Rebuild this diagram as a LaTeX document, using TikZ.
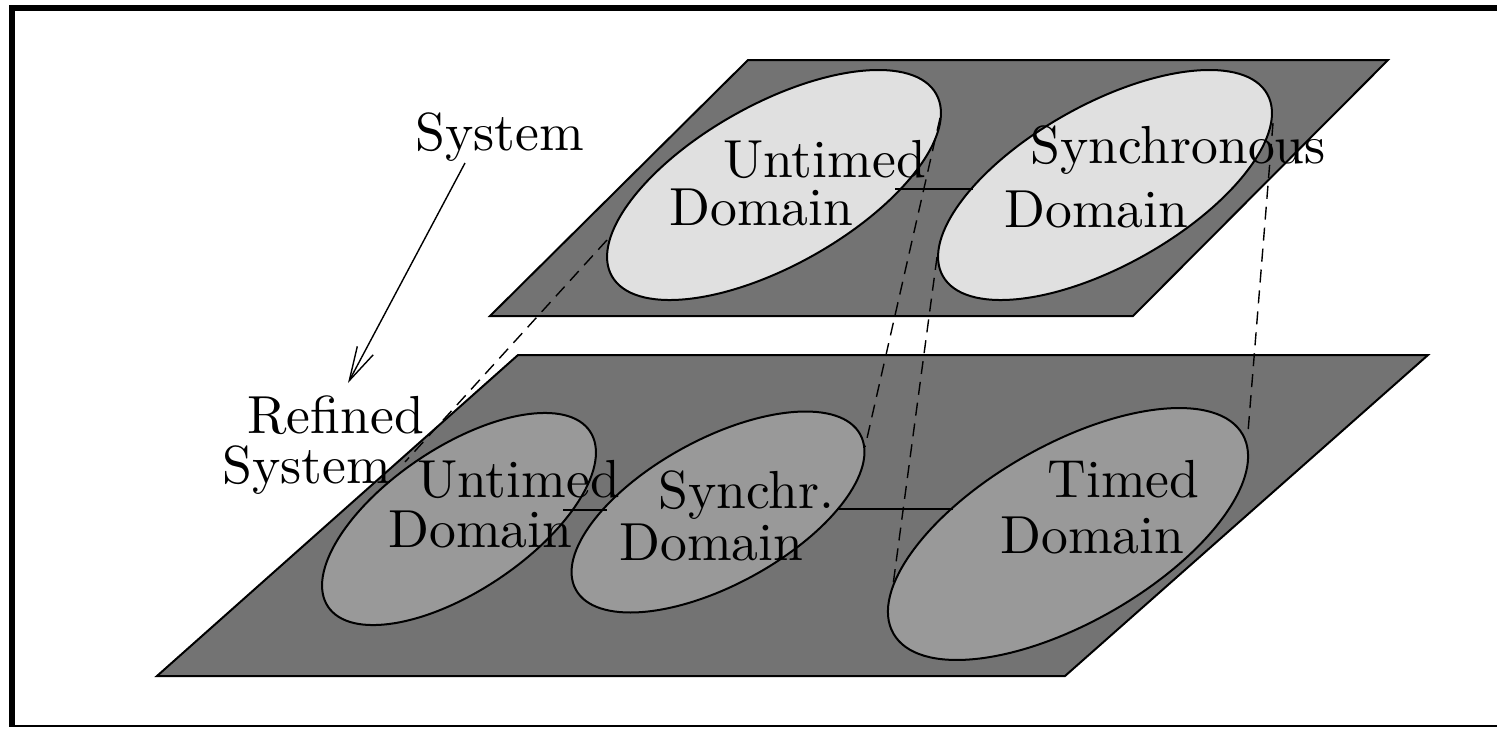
\documentclass[tikz,border=0pt]{standalone}
\usepackage{fontspec}
\newfontfamily\cmten[Extension=.otf]{lmroman10-regular}
\usetikzlibrary{arrows.meta}
\definecolor{plate}{gray}{0.45}
\definecolor{topell}{gray}{0.88}
\definecolor{lowell}{gray}{0.60}
\begin{document}
\begin{tikzpicture}[x=0.5pt,y=-0.5pt,
  platestyle/.style={fill=plate,draw=black,line width=1pt,line join=miter},
  topdom/.style={fill=topell,draw=black,line width=1pt},
  lowdom/.style={fill=lowell,draw=black,line width=1pt},
  lbl/.style={anchor=base west,inner sep=0pt,font=\cmten\fontsize{26.8pt}{24pt}\selectfont},
  link/.style={draw=black,line width=0.7pt},
  proj/.style={draw=black,line width=0.7pt,dash pattern=on 6.5pt off 4pt},
  refarrow/.style={draw=black,line width=0.7pt,-{Straight Barb[length=17pt,width=9pt,line width=0.7pt]}}]
\useasboundingbox (0,0) rectangle (1497,729);
% frame
\draw[line width=3pt] (1497,8) -- (12,8) -- (12,727);
\draw[line width=1pt] (11,726) -- (1497,726);
% plates
\draw[platestyle] (748,60) -- (1388,60) -- (1133,316) -- (490,316) -- cycle;
\draw[platestyle] (518,355) -- (1428,355) -- (1065,676) -- (157,676) -- cycle;
% top domains
\draw[topdom,rotate around={29.3:(774,185)}] (774,185) ellipse [x radius=186, y radius=80.6];
\draw[topdom,rotate around={29.3:(1105,185)}] (1105,185) ellipse [x radius=186, y radius=80.6];
% lower domains
\draw[lowdom,rotate around={33.8:(459,519)}] (459,519) ellipse [x radius=157.6, y radius=71.8];
\draw[lowdom,rotate around={28.6:(718,512)}] (718,512) ellipse [x radius=162, y radius=72.8];
\draw[lowdom,rotate around={29.7:(1068,534)}] (1068,534) ellipse [x radius=201, y radius=88.8];
% link end points
\coordinate (tl1) at (895,189);
\coordinate (tl2) at (973,189);
\coordinate (bl1) at (563,510);
\coordinate (bl2) at (607,510);
\coordinate (bl3) at (837,509);
\coordinate (bl4) at (953,509);
\draw[link] (tl1) -- (tl2);
\draw[link] (bl1) -- (bl2);
\draw[link] (bl3) -- (bl4);
% labels
\node[lbl] (sys) at (415,150) {System};
\node[lbl] (ref1) at (247,433) {Refined};
\node[lbl] (ref2) at (222,483) {System};
\node[lbl] (tu1) at (723,177) {Untimed};
\node[lbl] (tu2) at (669,225) {Domain};
\node[lbl] (ts1) at (1030,163) {Synchronous};
\node[lbl] (ts2) at (1004,227) {Domain};
\node[lbl] (bu1) at (417,497) {Untimed};
\node[lbl] (bu2) at (388,547) {Domain};
\node[lbl] (bs1) at (658,508) {Synchr.};
\node[lbl] (bs2) at (619,560) {Domain};
\node[lbl] (bt1) at (1047,497) {Timed};
\node[lbl] (bt2) at (1000,553) {Domain};
% refinement arrow
\coordinate (arS) at (465,163);
\coordinate (arE) at (348,383);
\draw[refarrow] (arS) -- (arE);
% projection lines
\coordinate (p1a) at (607,240);
\coordinate (p1b) at (405,462);
\coordinate (p2a) at (940,118);
\coordinate (p2b) at (865,447);
\coordinate (p3a) at (937,257);
\coordinate (p3b) at (893,585);
\coordinate (p4a) at (1273,123);
\coordinate (p4b) at (1248,432);
\draw[proj] (p1a) -- (p1b);
\draw[proj] (p2a) -- (p2b);
\draw[proj] (p3a) -- (p3b);
\draw[proj] (p4a) -- (p4b);
\end{tikzpicture}
\end{document}
